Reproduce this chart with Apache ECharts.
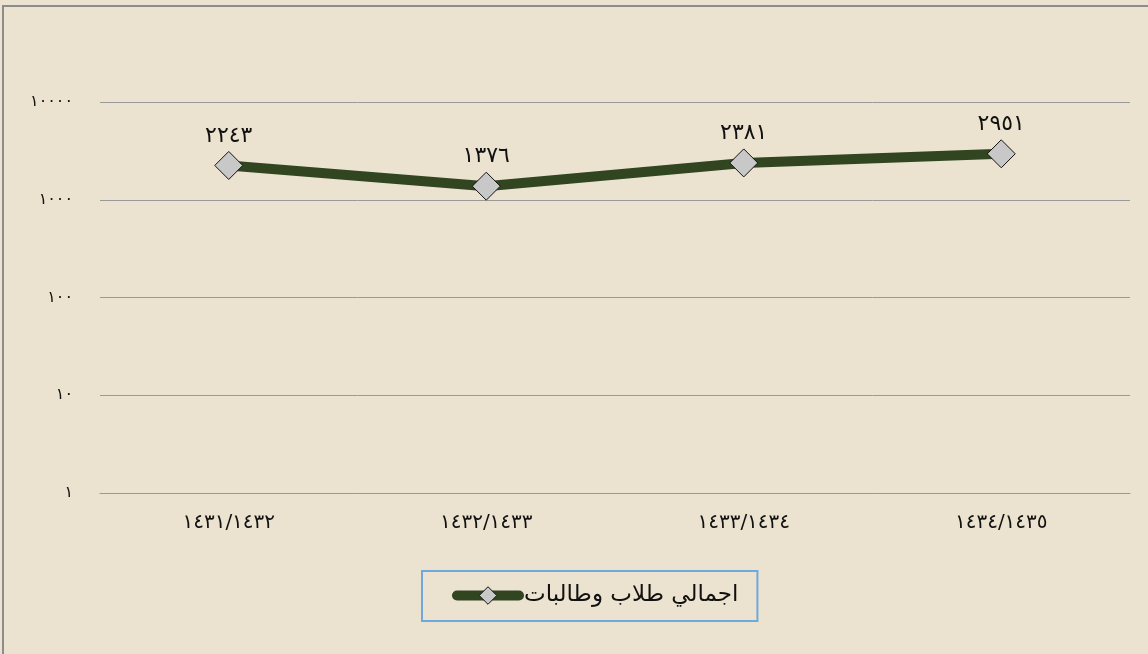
<!DOCTYPE html>
<html>
<head>
<meta charset="utf-8">
<script src="https://cdn.jsdelivr.net/npm/echarts@6/dist/echarts.min.js"></script>
<style>
  html, body { margin: 0; padding: 0; background: #ebe3cf; }
  #chart { width: 1148px; height: 654px; }
</style>
</head>
<body>
<div id="chart"></div>
<script>
// 年度（回历）
const categories = ['1431/1432', '1432/1433', '1433/1434', '1434/1435']
// 学生总数
const seriesName = 'اجمالي طلاب وطالبات'
const totals = [2243, 1376, 2381, 2951]
const yTicks = [1, 10, 100, 1000, 10000]

// 转成阿拉伯-印度数字
const toArabicDigits = s => String(s).replace(/[0-9]/g, d => '٠١٢٣٤٥٦٧٨٩'[+d])

const font = '"DejaVu Sans", "Noto Sans", sans-serif'

const chart = echarts.init(document.getElementById('chart'))
chart.setOption({
  backgroundColor: '#ebe3cf',
  textStyle: { fontFamily: font },
  animation: false,
  graphic: [
    {
      type: 'rect',
      shape: { x: 3, y: 6, width: 1160, height: 670 },
      style: { fill: 'none', stroke: '#8c8c8c', lineWidth: 2 },
      silent: true
    }
  ],
  grid: { left: 100, right: 18, top: 102, bottom: 161 },
  legend: {
    data: [seriesName],
    left: 422,
    top: 571,
    padding: [13, 19, 14, 30],
    borderColor: '#6fa8dc',
    borderWidth: 2,
    itemWidth: 62,
    itemHeight: 22,
    itemGap: 4,
    lineStyle: { color: '#324521', width: 10, cap: 'round' },
    itemStyle: { color: '#c8c8c8', borderColor: '#111', borderWidth: 1 },
    textStyle: { fontSize: 23, color: '#111', fontFamily: font }
  },
  xAxis: {
    type: 'category',
    data: categories,
    axisLine: { show: true, lineStyle: { color: '#999', width: 1 } },
    axisTick: { show: false },
    axisLabel: {
      margin: 20,
      fontSize: 20,
      color: '#111',
      formatter: v => toArabicDigits(v)
    }
  },
  yAxis: {
    type: 'log',
    logBase: 10,
    min: yTicks[0],
    max: yTicks[yTicks.length - 1],
    axisLine: { show: false },
    axisTick: { show: false },
    splitLine: { lineStyle: { color: '#999', width: 1 } },
    axisLabel: {
      margin: 27,
      fontSize: 16,
      color: '#111',
      formatter: v => toArabicDigits(v)
    }
  },
  series: [
    {
      name: seriesName,
      type: 'line',
      data: totals,
      symbol: 'diamond',
      symbolSize: 28,
      lineStyle: { color: '#324521', width: 10, cap: 'round' },
      itemStyle: { color: '#c8c8c8', borderColor: '#111', borderWidth: 1 },
      label: {
        show: true,
        position: 'top',
        distance: 4,
        fontSize: 22,
        color: '#111',
        formatter: p => toArabicDigits(p.value)
      }
    }
  ]
})
</script>
</body>
</html>
